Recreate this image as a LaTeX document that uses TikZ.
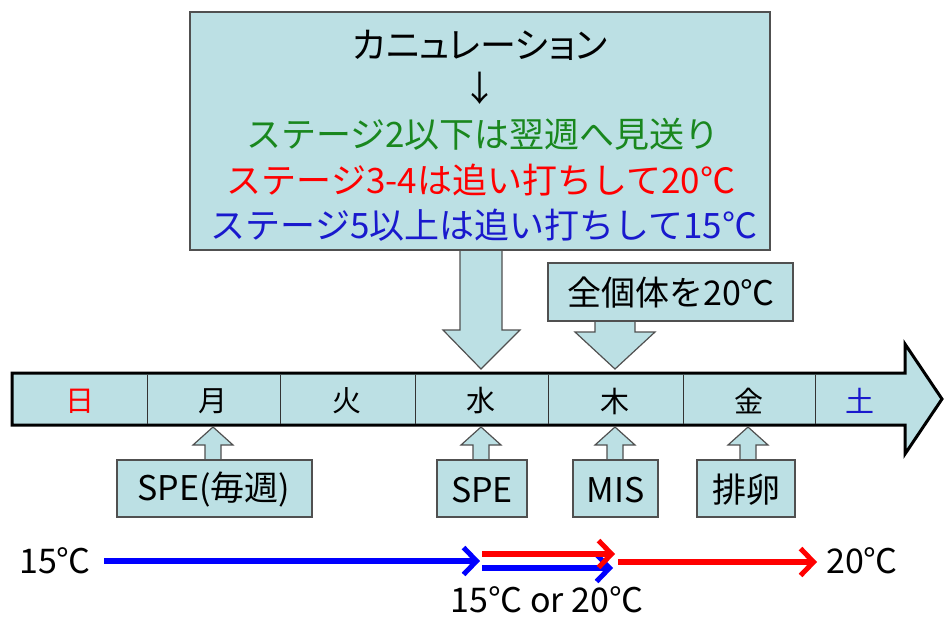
\documentclass[tikz,border=0pt]{standalone}
\usepackage{fontspec}
\setmainfont{Noto Sans CJK JP}
\newfontfamily\paltfont[RawFeature=+palt]{Noto Sans CJK JP}
\usetikzlibrary{arrows.meta,calc}
\definecolor{boxfill}{RGB}{188,224,228}
\definecolor{boxline}{RGB}{80,80,80}
\definecolor{jgreen}{RGB}{25,135,30}
\definecolor{jred}{RGB}{255,0,0}
\definecolor{jblue}{RGB}{25,25,205}
\begin{document}
\begin{tikzpicture}[x=1pt,y=-1pt,
  box/.style={draw=boxline,fill=boxfill,line width=1.2pt,inner sep=0pt},
  blk/.style={draw=boxline,fill=boxfill,line width=1.2pt,line join=miter},
  bigtxt/.style={inner sep=0pt,font=\fontsize{35}{40}\selectfont},
  daytxt/.style={inner sep=0pt,font=\fontsize{29}{32}\selectfont},
  calltxt/.style={inner sep=0pt,font=\fontsize{34}{38}\selectfont},
  tmptxt/.style={inner sep=0pt,font=\fontsize{34}{38}\selectfont},
  tarrow/.style={line width=5.5pt,-{Straight Barb[length=13pt,width=27pt,line width=5pt]}}
]
\useasboundingbox (0,0) rectangle (944,616);

% top box and its arrow to Wednesday
\coordinate (wedtip) at (481,369);
\draw[blk] (460,250) -- (460,330) -- (443,330) -- (wedtip) -- (520,330) -- (502,330) -- (502,250);
\node[box,minimum width=580pt,minimum height=238pt] (cann) at (480,131) {};
\node[bigtxt,font=\paltfont\fontsize{36}{40}\selectfont] (t1) at (480,45) {カニュレーション};
\node[bigtxt] (t2) at (480,88) {↓};
\node[bigtxt,text=jgreen] (t3) at (483,134) {ステージ2以下は翌週へ見送り};
\node[bigtxt,text=jred] (t4) at (481,180) {ステージ3-4は追い打ちして20℃};
\node[bigtxt,text=jblue] (t5) at (484,225) {ステージ5以上は追い打ちして15℃};

% all individuals box and arrow to Thursday
\coordinate (thutip) at (615,369);
\draw[blk] (595,320) -- (595,332) -- (575,332) -- (thutip) -- (655,332) -- (635,332) -- (635,320);
\node[box,minimum width=245pt,minimum height=58pt] (all) at (670.5,292) {};
\node[calltxt] (allt) at (671,293) {全個体を20℃};

% timeline bar
\draw[line width=3pt,fill=boxfill,line join=miter] (12,373) -- (905,373) -- (905,344) -- (942,399) -- (905,454) -- (905,425) -- (12,425) -- cycle;
\foreach \x in {147,280,415,548,683,815}
  \draw[line width=0.9pt,black!80] (\x,374.5) -- (\x,423.5);
\node[daytxt,text=jred] (sun) at (80,401) {日};
\node[daytxt] (mon) at (213,401) {月};
\node[daytxt] (tue) at (347,401) {火};
\node[daytxt] (wed) at (481,401) {水};
\node[daytxt] (thu) at (615,401) {木};
\node[daytxt] (fri) at (749,401) {金};
\node[daytxt,text=jblue] (sat) at (860,401) {土};

% bottom callouts
\foreach \cx in {213,481,615,748}{
  \draw[blk] (\cx-8,461) -- (\cx-8,445) -- (\cx-20,445) -- (\cx,427) -- (\cx+20,445) -- (\cx+8,445) -- (\cx+8,461);
}
\node[box,minimum width=195pt,minimum height=57pt] (c1) at (214.5,488.5) {};
\node[calltxt] (c1t) at (214,490) {SPE(毎週)};
\node[box,minimum width=90pt,minimum height=57pt] (c2) at (482,488.5) {};
\node[calltxt] (c2t) at (482,490) {SPE};
\node[box,minimum width=85pt,minimum height=57pt] (c3) at (615.5,488.5) {};
\node[calltxt] (c3t) at (615.5,490) {MIS};
\node[box,minimum width=98pt,minimum height=57pt] (c4) at (746,488.5) {};
\node[calltxt] (c4t) at (746,490) {排卵};

% temperature arrows
\node[tmptxt] (t15) at (55,561) {15℃};
\node[tmptxt] (t20) at (862,561) {20℃};
\node[tmptxt] (tor) at (547,600) {15℃ or 20℃};
\coordinate (b1s) at (104,561);
\coordinate (b1e) at (480,561);
\coordinate (r1s) at (482,554);
\coordinate (r1e) at (615,554);
\coordinate (b2s) at (482,568);
\coordinate (b2e) at (613,568);
\coordinate (r2s) at (618,562);
\coordinate (r2e) at (817,562);
\draw[tarrow,draw=blue] (b1s) -- (b1e);
\draw[tarrow,draw=blue] (b2s) -- (b2e);
\draw[tarrow,draw=red] (r1s) -- (r1e);
\draw[tarrow,draw=red] (r2s) -- (r2e);
\end{tikzpicture}
\end{document}
